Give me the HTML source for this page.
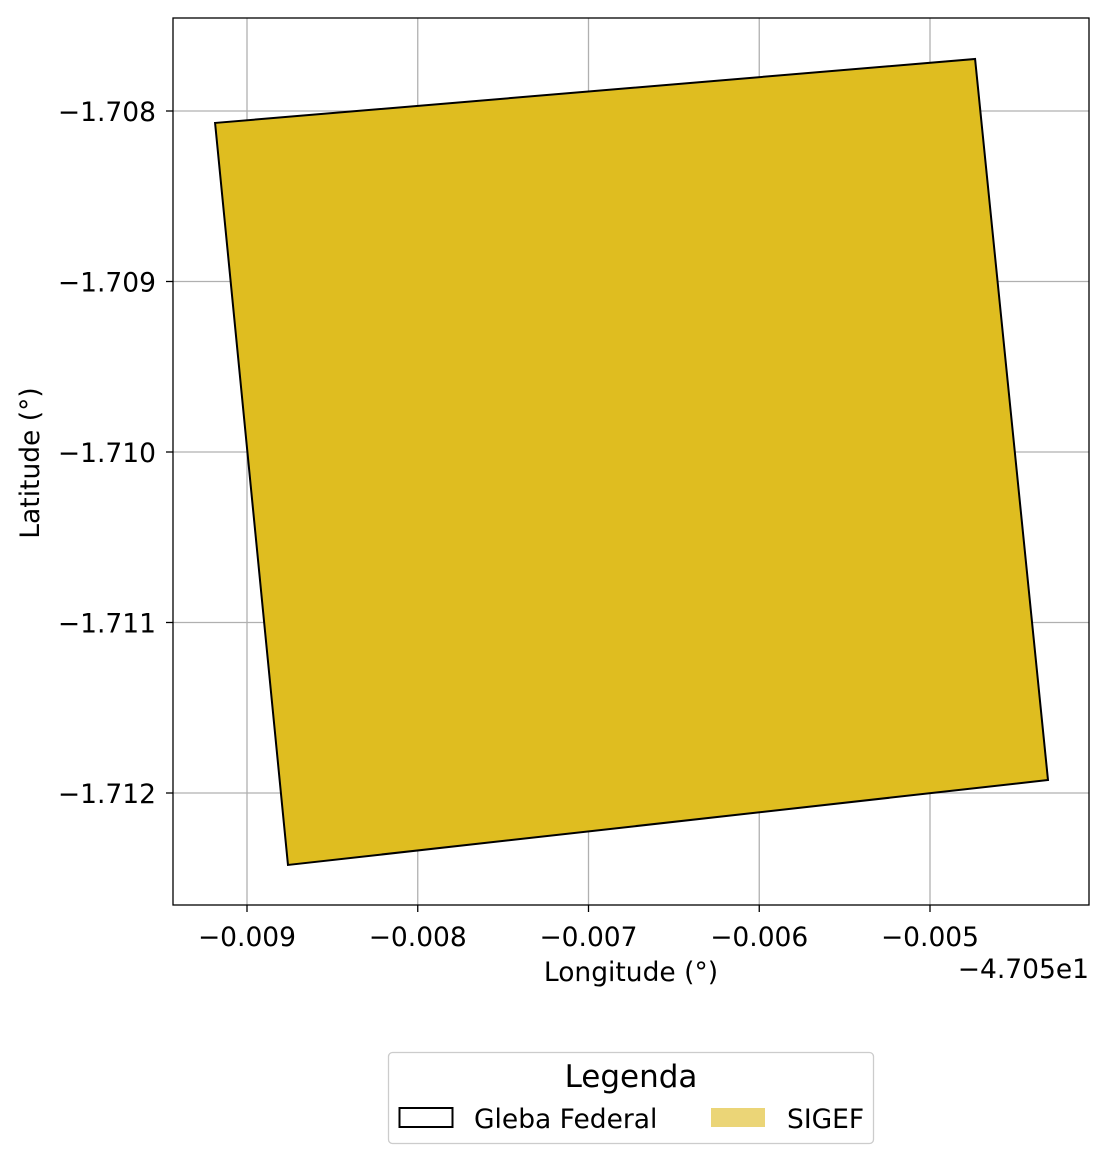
<!DOCTYPE html>
<html><head><meta charset="utf-8"><style>
html,body{margin:0;padding:0;background:#fff;}
svg{display:block;font-family:"DejaVu Sans","Liberation Sans",sans-serif;}
</style></head><body>
<svg id="chart" width="1108" height="1163" xmlns="http://www.w3.org/2000/svg">
<g id="grid"></g>
<g id="marks"></g>
<rect x="173" y="18" width="916" height="887" fill="none" stroke="#000" stroke-width="1.3"/>
<g id="ticks"></g>
<text x="631" y="981" font-size="26.5" text-anchor="middle">Longitude (°)</text>
<text x="1089" y="978" font-size="26.5" text-anchor="end">−4.705e1</text>
<text transform="translate(39,463) rotate(-90)" font-size="26.5" text-anchor="middle">Latitude (°)</text>
<g>
<rect x="388.5" y="1052.5" width="485" height="91" rx="4" fill="#fff" stroke="#ccc" stroke-width="1.3"/>
<text x="631" y="1087" font-size="31" text-anchor="middle">Legenda</text>
<rect x="399.5" y="1108" width="53" height="19" fill="none" stroke="#000" stroke-width="2"/>
<text x="474" y="1128" font-size="26.5">Gleba Federal</text>
<rect x="711" y="1108" width="54" height="19" fill="#ebd577"/>
<text x="787" y="1128" font-size="26.5">SIGEF</text>
</g>
</svg>
<script>
const xTicks=[-0.009,-0.008,-0.007,-0.006,-0.005];
const xTickLabels=["−0.009","−0.008","−0.007","−0.006","−0.005"];
const yTicks=[-1.708,-1.709,-1.710,-1.711,-1.712];
const yTickLabels=["−1.708","−1.709","−1.710","−1.711","−1.712"];
const polyLon=[-0.009187,-0.004736,-0.004309,-0.00876];
const polyLat=[-1.70807,-1.707695,-1.711924,-1.712422];
const NS="http://www.w3.org/2000/svg";
const sx=v=>247+(v+0.009)*170750;
const sy=v=>111+(-1.708-v)*170500;
const grid=document.getElementById('grid'),marks=document.getElementById('marks'),ticks=document.getElementById('ticks');
function mk(tag,attrs,parent){const e=document.createElementNS(NS,tag);for(const k in attrs)e.setAttribute(k,attrs[k]);parent.appendChild(e);return e;}
xTicks.forEach((v,i)=>{const x=sx(v);
 const g=mk('line',{x1:x,x2:x,y1:18,y2:905,stroke:'#b0b0b0','stroke-width':1.3},grid);
 
 
 const t=mk('line',{x1:x,x2:x,y1:905,y2:912,stroke:'#000','stroke-width':1.3},ticks);
 
 
 const l=mk('text',{x:x,y:946,'font-size':26.5,'text-anchor':'middle'},ticks);l.textContent=xTickLabels[i];
 
 
});
yTicks.forEach((v,i)=>{const y=sy(v);
 const g=mk('line',{x1:173,x2:1089,y1:y,y2:y,stroke:'#b0b0b0','stroke-width':1.3},grid);
 
 
 const t=mk('line',{x1:166,x2:173,y1:y,y2:y,stroke:'#000','stroke-width':1.3},ticks);
 
 
 const l=mk('text',{x:156,y:y+10,'font-size':26.5,'text-anchor':'end'},ticks);l.textContent=yTickLabels[i];
 
 
});
const pts=polyLon.map((v,i)=>sx(v)+','+sy(polyLat[i])).join(' ');
const p=mk('polygon',{points:pts,fill:'#dfbd20',stroke:'#000','stroke-width':2},marks);


</script>
</body></html>
